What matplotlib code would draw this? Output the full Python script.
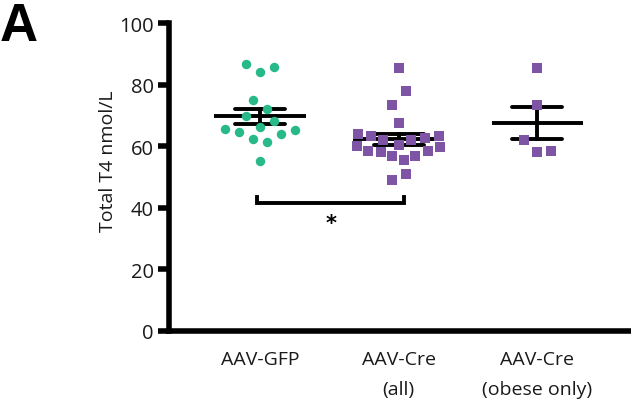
import numpy as np
import matplotlib
matplotlib.use("Agg")
import matplotlib.pyplot as plt

plt.rcParams["font.family"] = ["Open Sans", "DejaVu Sans"]

# Total T4 per animal (nmol/L)
groups = ["AAV-GFP", "AAV-Cre\n(all)", "AAV-Cre\n(obese only)"]
gfp_values = [86.7, 84.0, 85.6, 75.0, 72.0, 69.8, 68.1, 66.3, 65.7, 64.5,
              65.3, 64.0, 62.3, 61.4, 55.1]
gfp_offsets = [-0.10, 0.0, 0.10, -0.05, 0.05, -0.10, 0.10, 0.0, -0.25, -0.15,
               0.25, 0.15, -0.05, 0.05, 0.0]
cre_all_values = [85.4, 77.9, 73.4, 67.5, 64.0, 63.3, 62.0, 62.0, 62.7, 63.3,
                  60.1, 58.4, 58.1, 60.4, 59.7, 58.4, 56.8, 56.8, 55.5, 51.0,
                  49.0]
cre_all_offsets = [0.0, 0.05, -0.05, 0.0, -0.29, -0.20, -0.11, 0.09, 0.19, 0.29,
                   -0.30, -0.22, -0.13, 0.0, 0.30, 0.21, 0.12, -0.05, 0.04, 0.05,
                   -0.05]
cre_obese_values = [85.4, 73.5, 62.1, 58.2, 58.5]
cre_obese_offsets = [0.0, 0.0, -0.10, 0.0, 0.10]
y_ticks = [0, 20, 40, 60, 80, 100]

green = "#27b98a"
purple = "#7e55a5"

fig = plt.figure(figsize=(6.31, 4.06), dpi=100)
ax = fig.add_axes([169 / 631, 1 - 332 / 406, 460 / 631, 308 / 406])


def mean_sem(vals):
    v = np.asarray(vals, dtype=float)
    return v.mean(), v.std(ddof=1) / np.sqrt(len(v))


datasets = [
    (gfp_values, gfp_offsets, "o", green, 6.8),
    (cre_all_values, cre_all_offsets, "s", purple, 7.2),
    (cre_obese_values, cre_obese_offsets, "s", purple, 7.2),
]

for i, (vals, offs, marker, color, ms) in enumerate(datasets):
    m, s = mean_sem(vals)
    ax.plot([i - 0.33, i + 0.33], [m, m], color="black", lw=2.8,
            solid_capstyle="butt", zorder=2)
    ax.plot([i - 0.18, i + 0.18], [m + s, m + s], color="black", lw=2.8,
            solid_capstyle="round", zorder=2)
    ax.plot([i - 0.18, i + 0.18], [m - s, m - s], color="black", lw=2.8,
            solid_capstyle="round", zorder=2)
    ax.plot([i, i], [m - s, m + s], color="black", lw=2.8, zorder=2)
    ax.plot(np.array(offs) + i, vals, linestyle="none", marker=marker,
            color=color, markersize=ms, markeredgewidth=0, zorder=3)

# significance bracket between GFP and Cre (all)
bx0, bx1, by, btip = -0.02, 1.04, 41.6, 43.6
ax.plot([bx0, bx0, bx1, bx1], [btip, by, by, btip], color="black", lw=2.8,
        solid_joinstyle="miter", zorder=2)
ax.text((bx0 + bx1) / 2, 35.0, "*", ha="center", va="center", fontsize=15,
        fontweight="bold", family=["DejaVu Sans"])

ax.set_xlim(-0.655, 2.66)
ax.set_ylim(0, 100)
ax.set_yticks(y_ticks)
ax.set_yticklabels([str(t) for t in y_ticks], fontsize=14.5, color="#1a1a1a")
ax.set_xticks(range(len(groups)))
ax.set_xticklabels(groups, fontsize=14, color="#1a1a1a", linespacing=1.8)
ax.tick_params(axis="x", length=0, pad=14)
ax.tick_params(axis="y", length=8, width=4, pad=3, direction="out")

for side in ["top", "right"]:
    ax.spines[side].set_visible(False)
for side in ["left", "bottom"]:
    ax.spines[side].set_linewidth(4)
    ax.spines[side].set_capstyle("projecting")

ax.set_ylabel("Total T4 nmol/L", fontsize=14, color="#1a1a1a")
ax.yaxis.set_label_coords(-0.113, 0.555)

fig.text(0.0, 1 - 2 / 406, "A", fontsize=38, fontweight="bold",
         family=["Liberation Sans"], ha="left", va="top")

fig.savefig("out.png", dpi=100)
